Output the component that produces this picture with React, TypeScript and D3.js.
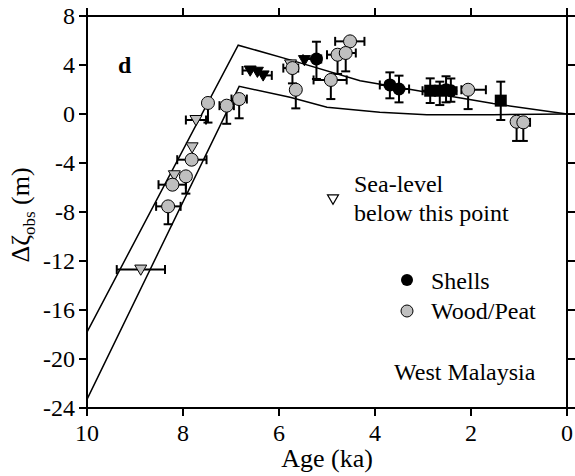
import React from "react";
import * as d3 from "d3";

// ---- Data ----
const xTicks = [10, 8, 6, 4, 2, 0];
const yTicks = [8, 4, 0, -4, -8, -12, -16, -20, -24];

// model curves [age ka, level m]
const upperModel: [number, number][] = [
  [10, -17.8], [6.85, 5.62], [5.77, 4.42], [4.31, 2.72], [2.92, 1.77], [1.54, 0.85], [0, 0],
];
const lowerModel: [number, number][] = [
  [10, -23.3], [6.83, 2.26], [5.77, 1.36], [5.0, 0.55], [3.9, 0.14], [2.92, -0.06], [1.54, -0.06], [0, 0],
];

// Wood/Peat: age, level, lower error, oldest age, youngest age
const woodAge = [7.48, 7.09, 6.83, 5.72, 5.65, 4.92, 4.52, 4.78, 4.61, 2.06, 1.05, 0.91, 7.82, 7.94, 8.22, 8.31];
const woodLevel = [0.9, 0.68, 1.22, 3.75, 1.98, 2.78, 5.93, 4.84, 4.98, 1.98, -0.63, -0.68, -3.73, -5.09, -5.77, -7.54];
const woodLow = [-0.7, -0.8, -0.35, 2.5, 0.46, 1.22, null, 3.27, 3.48, 0.4, -2.2, -2.2, null, -6.5, null, -9.0];
const woodOld = [null, 7.24, 6.99, 5.91, null, 5.28, 4.83, 5.0, null, 2.2, null, null, 8.12, null, 8.51, 8.56];
const woodYoung = [null, 6.94, 6.67, 5.6, null, 4.59, 4.22, null, 4.4, 1.69, null, 0.77, 7.51, null, 7.94, 8.05];

// Shells
const shellAge = [5.22, 3.69, 3.5, 2.85, 2.65, 2.52, 2.42, 1.38];
const shellLevel = [4.49, 2.37, 2.04, 1.9, 1.9, 1.98, 1.9, 1.09];
const shellLow = [2.86, 1.28, 0.95, 0.9, 0.73, 0.95, 1.0, -0.49];
const shellHigh = [5.9, 3.4, 3.13, 2.91, 2.64, 3.08, 2.9, 2.64];
const shellOld = [5.5, 3.9, null, 3.01, null, null, null, null];
const shellYoung = [5.12, null, 3.29, null, null, null, 2.3, null];
const shellSquare = [false, false, false, true, true, false, false, true];

// Sea-level-below points (grey triangles, wood/peat)
const triAge = [7.73, 7.81, 8.18, 8.88, 5.76];
const triLevel = [-0.49, -2.72, -5.0, -12.7, 4.05];
const triOld = [7.94, null, null, 9.38, null];
const triYoung = [7.52, null, null, 8.375, null];

// Sea-level-below points (black triangles, shells)
const blackTriAge = [6.6, 6.45, 6.33, 5.47];
const blackTriLevel = [3.55, 3.45, 3.15, 4.4];
const blackTriOld = [6.76, null, null, null];
const blackTriYoung = [null, null, 6.15, null];

const FONT = "'Liberation Serif', 'Times New Roman', Times, serif";
const GREY = "#bfbfbf";

export default function App() {
  const W = 575, H = 476;
  const x = d3.scaleLinear().domain([10, 0]).range([87, 567]);
  const y = d3.scaleLinear().domain([-24, 8]).range([408, 16]);
  const line = d3.line<[number, number]>().x((d) => x(d[0])).y((d) => y(d[1]));

  const cap = 4.5;
  const errV = (ax: number, lo: number | null, hi: number | null, v: number, key: string) => {
    const els: any[] = [];
    const cx = x(ax);
    const top = hi != null ? y(hi) : y(v);
    const bot = lo != null ? y(lo) : y(v);
    if (lo == null && hi == null) return els;
    els.push(<line key={key + "v"} x1={cx} x2={cx} y1={top} y2={bot} stroke="#000" strokeWidth={2} />);
    if (hi != null) els.push(<line key={key + "vh"} x1={cx - cap} x2={cx + cap} y1={top} y2={top} stroke="#000" strokeWidth={2} />);
    if (lo != null) els.push(<line key={key + "vl"} x1={cx - cap} x2={cx + cap} y1={bot} y2={bot} stroke="#000" strokeWidth={2} />);
    return els;
  };
  const errH = (ax: number, v: number, old: number | null, young: number | null, key: string) => {
    const els: any[] = [];
    if (old == null && young == null) return els;
    const cy = y(v);
    const l = old != null ? x(old) : x(ax);
    const r = young != null ? x(young) : x(ax);
    els.push(<line key={key + "h"} x1={l} x2={r} y1={cy} y2={cy} stroke="#000" strokeWidth={2} />);
    if (old != null) els.push(<line key={key + "hl"} x1={l} x2={l} y1={cy - cap} y2={cy + cap} stroke="#000" strokeWidth={2} />);
    if (young != null) els.push(<line key={key + "hr"} x1={r} x2={r} y1={cy - cap} y2={cy + cap} stroke="#000" strokeWidth={2} />);
    return els;
  };
  const tri = (cx: number, cy: number, s: number) =>
    `M${cx - s},${cy - s * 0.75} L${cx + s},${cy - s * 0.75} L${cx},${cy + s * 0.95} Z`;

  return (
    <svg width={W} height={H} style={{ position: "absolute", left: 0, top: 0, background: "#fff" }} fontFamily={FONT}>
      {/* model lines */}
      <path d={line(upperModel) || ""} fill="none" stroke="#000" strokeWidth={1.5} />
      <path d={line(lowerModel) || ""} fill="none" stroke="#000" strokeWidth={1.5} />

      {/* error bars */}
      {woodAge.map((a, i) => (
        <g key={"we" + i}>
          {errV(a, woodLow[i], null, woodLevel[i], "w" + i)}
          {errH(a, woodLevel[i], woodOld[i], woodYoung[i], "w" + i)}
        </g>
      ))}
      {shellAge.map((a, i) => (
        <g key={"se" + i}>
          {errV(a, shellLow[i], shellHigh[i], shellLevel[i], "s" + i)}
          {errH(a, shellLevel[i], shellOld[i], shellYoung[i], "s" + i)}
        </g>
      ))}
      {triAge.map((a, i) => (
        <g key={"te" + i}>{errH(a, triLevel[i], triOld[i], triYoung[i], "t" + i)}</g>
      ))}
      {blackTriAge.map((a, i) => (
        <g key={"be" + i}>{errH(a, blackTriLevel[i], blackTriOld[i], blackTriYoung[i], "b" + i)}</g>
      ))}

      {/* markers */}
      {triAge.map((a, i) => (
        <path key={"t" + i} d={tri(x(a), y(triLevel[i]), 6)} fill={GREY} stroke="#000" strokeWidth={1} />
      ))}
      {blackTriAge.map((a, i) => (
        <path key={"b" + i} d={tri(x(a), y(blackTriLevel[i]), 6)} fill="#000" stroke="#000" strokeWidth={1} />
      ))}
      {woodAge.map((a, i) => (
        <circle key={"w" + i} cx={x(a)} cy={y(woodLevel[i])} r={6.5} fill={GREY} stroke="#000" strokeWidth={1} />
      ))}
      {shellAge.map((a, i) =>
        shellSquare[i] ? (
          <rect key={"s" + i} x={x(a) - 6} y={y(shellLevel[i]) - 6} width={12} height={12} fill="#000" />
        ) : (
          <circle key={"s" + i} cx={x(a)} cy={y(shellLevel[i])} r={6.5} fill="#000" />
        )
      )}

      {/* frame */}
      <rect x={87} y={16} width={480} height={392} fill="none" stroke="#000" strokeWidth={2} />
      {xTicks.map((t) => (
        <g key={"xt" + t}>
          <line x1={x(t)} x2={x(t)} y1={408} y2={416} stroke="#000" strokeWidth={2} />
          <line x1={x(t)} x2={x(t)} y1={8} y2={16} stroke="#000" strokeWidth={2} />
          <text x={x(t)} y={441} fontSize={24} textAnchor="middle">{t}</text>
        </g>
      ))}
      {yTicks.map((t) => (
        <g key={"yt" + t}>
          <line x1={79} x2={87} y1={y(t)} y2={y(t)} stroke="#000" strokeWidth={2} />
          <line x1={567} x2={575} y1={y(t)} y2={y(t)} stroke="#000" strokeWidth={2} />
          <text x={75} y={y(t) + 8} fontSize={24} textAnchor="end">{t}</text>
        </g>
      ))}

      {/* axis titles */}
      <text x={327} y={467} fontSize={26} textAnchor="middle">Age (ka)</text>
      <text transform="translate(29,215) rotate(-90)" fontSize={26} textAnchor="middle">
        Δζ<tspan fontSize={17} dy={6}>obs</tspan><tspan dy={-6}> (m)</tspan>
      </text>

      {/* panel label */}
      <text x={118} y={73} fontSize={24} fontWeight="bold">d</text>

      {/* legend */}
      <path d={tri(333, 199, 5.5)} fill="#fff" stroke="#000" strokeWidth={1.2} />
      <text x={354} y={192} fontSize={24}>Sea-level</text>
      <text x={354} y={221} fontSize={24}>below this point</text>
      <circle cx={407} cy={280} r={6} fill="#000" />
      <text x={431} y={289} fontSize={24}>Shells</text>
      <circle cx={407} cy={311} r={6} fill={GREY} stroke="#000" strokeWidth={1} />
      <text x={431} y={319} fontSize={24}>Wood/Peat</text>
      <text x={394} y={380} fontSize={24}>West Malaysia</text>
    </svg>
  );
}
